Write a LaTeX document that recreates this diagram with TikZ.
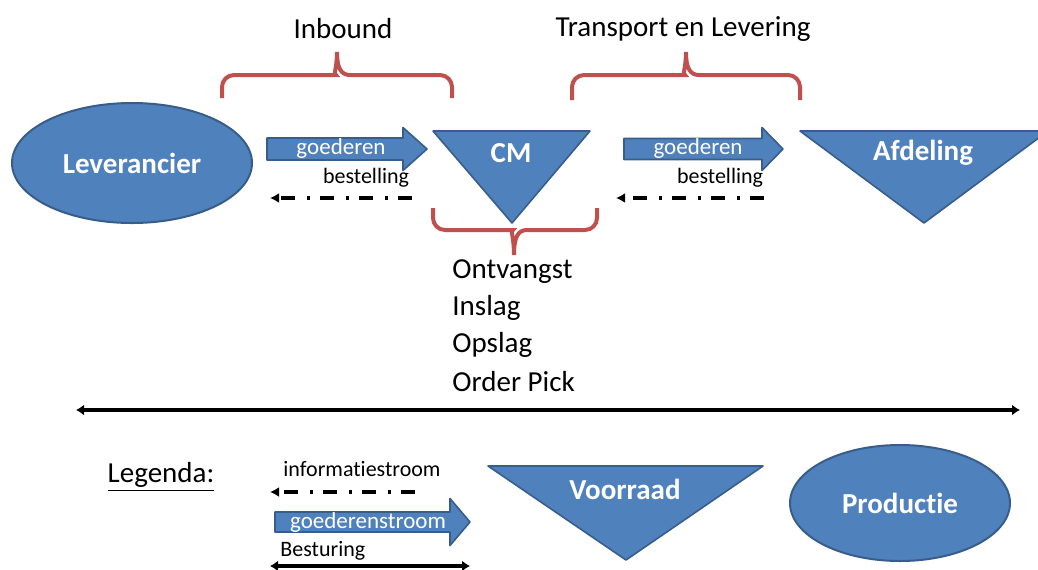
\documentclass[tikz,border=0pt]{standalone}
\usepackage{fontspec}
\setmainfont{Carlito}[Ligatures=CommonOff]
\usetikzlibrary{arrows.meta,shapes.geometric}
\definecolor{boxBlue}{HTML}{4F81BD}
\definecolor{boxEdge}{HTML}{385D8A}
\definecolor{braceRed}{HTML}{C0504D}
\tikzset{
	blob/.style={ellipse, draw=boxEdge, fill=boxBlue, line width=1pt, inner sep=0,
		text=white, font=\fontsize{14.5}{17}\selectfont\bfseries},
	tri/.style={draw=boxEdge, fill=boxBlue, line width=0.8pt, line join=round},
	trilab/.style={text=white, font=\fontsize{14.5}{17}\selectfont\bfseries},
	flowlab/.style={text=white, font=\fontsize{11.5}{13}\selectfont},
	brace/.style={draw=braceRed, line width=2pt},
	big/.style={font=\fontsize{14.5}{17}\selectfont},
	small/.style={font=\fontsize{11}{13}\selectfont},
	info/.style={line width=1.8pt, dash pattern=on 7pt off 5pt on 1.5pt off 6pt,
		-{Latex[length=4.5pt,width=5pt]}},
	ctrl/.style={line width=1.8pt, {Latex[length=4pt,width=5.5pt]}-{Latex[length=4pt,width=5.5pt]}}
}
% fat arrow: start x, head x, tip x, mid y, half shaft, half head
\newcommand{\fatarrow}[6]{\draw[tri] (#1,#4-#5) -- (#2,#4-#5) -- (#2,#4-#6) -- (#3,#4)
	-- (#2,#4+#6) -- (#2,#4+#5) -- (#1,#4+#5) -- cycle;}

\begin{document}
\begin{tikzpicture}[x=0.5pt, y=-0.5pt]
	\useasboundingbox (0,0) rectangle (1038,569);
	% actors
	\node[blob, minimum width=120pt, minimum height=60pt] (lev) at (132,163) {Leverancier};
	\node[blob, minimum width=110pt, minimum height=58pt] (prod) at (900,503) {Productie};
	\draw[tri] (433,131) -- (590,131) -- (512,223) -- cycle;
	\node[trilab] (cm) at (511,153) {CM};
	\draw[tri] (800,131) -- (1048,131) -- (924,223) -- cycle;
	\node[trilab] (afd) at (923,153) {Afdeling};
	\draw[tri] (488,466) -- (763,466) -- (626,560) -- cycle;
	\node[trilab] (vrd) at (625,489) {Voorraad};
	% braces
	\draw[brace] (222,98) [rounded corners=6pt] -- (222,75) -- (324,75) [sharp corners]
		.. controls (333,75) and (337,68) .. (337,52) .. controls (337,68) and (341,75) .. (350,75)
		[rounded corners=6pt] -- (452,75) -- (452,98);
	\draw[brace] (572,100) [rounded corners=6pt] -- (572,75) -- (673,75) [sharp corners]
		.. controls (682,75) and (686,68) .. (686,52) .. controls (686,68) and (690,75) .. (699,75)
		[rounded corners=6pt] -- (800,75) -- (800,100);
	\draw[brace] (433,208) [rounded corners=6pt] -- (433,230) -- (501,230) [sharp corners]
		.. controls (510,230) and (514,237) .. (514,255) .. controls (514,237) and (518,230) .. (527,230)
		[rounded corners=6pt] -- (597,230) -- (597,208);
	\node[big] (inb) at (343,29) {Inbound};
	\node[big] (trl) at (683,29) {Transport en Levering};
	\foreach \lab [count=\i] in {Ontvangst,Inslag,Opslag,Order Pick}
		\node[big, anchor=west, inner sep=0] (stap\i) at (452,235+36.7*\i) {\lab};
	% flows
	\fatarrow{267}{403}{427}{149}{11}{21.5}
	\node[flowlab] (g1) at (341,148) {goederen};
	\fatarrow{624}{762}{783}{149}{10.5}{21.5}
	\node[flowlab] (g2) at (698,148) {goederen};
	\node[small] (b1) at (366,178) {bestelling};
	\node[small] (b2) at (720,178) {bestelling};
	\coordinate (i1s) at (412,198);
	\coordinate (i1e) at (270,198);
	\coordinate (i2s) at (764,198);
	\coordinate (i2e) at (616,198);
	\draw[info] (i1s) -- (i1e);
	\draw[info] (i2s) -- (i2e);
	\coordinate (lft) at (76,410);
	\coordinate (rgt) at (1020,410);
	\draw[ctrl] (lft) -- (rgt);
	% legend
	\node[big] (leg) at (161,477) {\underline{Legenda:}};
	\node[small] (linf) at (362,469) {informatiestroom};
	\coordinate (l1s) at (415,492);
	\coordinate (l1e) at (270,492);
	\draw[info] (l1s) -- (l1e);
	\fatarrow{275}{450}{470}{522}{10}{23.5}
	\node[flowlab] (lgs) at (368,522) {goederenstroom};
	\node[small, anchor=west, inner sep=0] (lbes) at (280,551) {Besturing};
	\coordinate (l2s) at (270,566);
	\coordinate (l2e) at (470,566);
	\draw[ctrl] (l2s) -- (l2e);
\end{tikzpicture}
\end{document}
